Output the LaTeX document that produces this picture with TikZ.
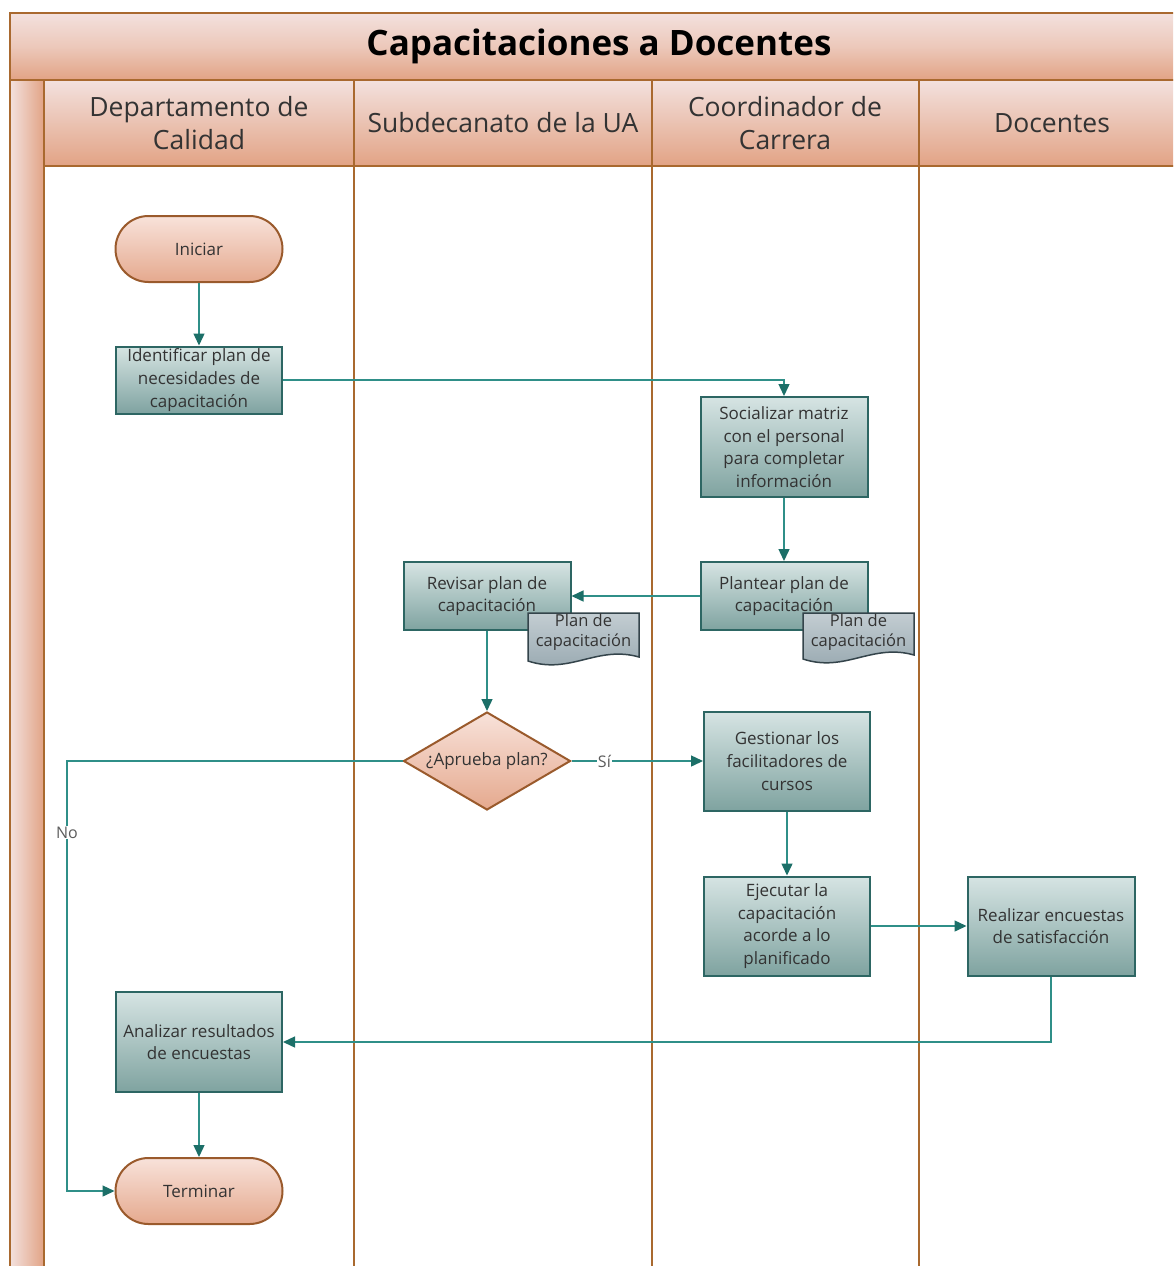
\documentclass[tikz,border=0pt]{standalone}
\usepackage{fontspec}
\setmainfont{Open Sans}
\usetikzlibrary{shapes.geometric,arrows.meta}

\definecolor{laneline}{HTML}{A9692F}
\definecolor{hdrtop}{HTML}{F3E1DE}
\definecolor{hdrbot}{HTML}{E2A385}
\definecolor{proctop}{HTML}{D6E4E3}
\definecolor{procbot}{HTML}{7FA3A0}
\definecolor{procline}{HTML}{2D6663}
\definecolor{termtop}{HTML}{F8E2DA}
\definecolor{termbot}{HTML}{E5A98E}
\definecolor{termline}{HTML}{9A5A2C}
\definecolor{doctop}{HTML}{C3CDD2}
\definecolor{docbot}{HTML}{95A6AE}
\definecolor{docline}{HTML}{34444B}
\definecolor{flow}{HTML}{2F8F88}
\definecolor{flowhead}{HTML}{1C6F68}
\definecolor{txt}{HTML}{333333}

\tikzset{
  proc/.style={rectangle, draw=procline, line width=2pt, top color=proctop,
    bottom color=procbot, align=center, text=txt, inner sep=1pt,
    font=\fontsize{17}{22.7}\selectfont},
  term/.style={rectangle, rounded corners=33pt, draw=termline, line width=2pt,
    top color=termtop, bottom color=termbot, text=txt,
    minimum width=167pt, minimum height=66pt, font=\fontsize{17}{20}\selectfont},
  decision/.style={diamond, draw=termline, line width=2pt, top color=termtop,
    bottom color=termbot, text=txt, inner sep=0pt, aspect=1.7,
    minimum width=167pt, minimum height=98pt, font=\fontsize{17}{20}\selectfont},
  doctext/.style={align=center, text=txt, inner sep=0pt,
    font=\fontsize{16.5}{20}\selectfont},
  docshape/.style={draw=docline, line width=1.5pt, top color=doctop, bottom color=docbot},
  flowline/.style={draw=flow, line width=1.4pt,
    -{Triangle[length=12pt,width=11pt,color=flowhead]}},
  lanehead/.style={align=center, text=txt, font=\fontsize{26.5}{33}\selectfont},
  edgelabel/.style={text=txt!80, fill=white, inner sep=1pt, font=\fontsize{16}{18}\selectfont},
}

% wavy-bottom document symbol: x, y (top-left), width, height
\newcommand\docsymbol[4]{%
  \path[docshape] (#1,#2) -- ({#1+#3},#2) -- ({#1+#3},{#2+#4-6})
    .. controls ({#1+0.62*#3},{#2+#4-18}) and ({#1+0.38*#3},{#2+#4+12}) .. (#1,{#2+#4-2}) -- cycle;}

\begin{document}
\begin{tikzpicture}[x=1pt,y=-1pt]
\useasboundingbox (0,0) rectangle (1173,1266);
\fill[white] (0,0) rectangle (1173,1266);

\begin{scope}
\clip (0,0) rectangle (1173,1266);
% title band
\shade[top color=hdrtop, bottom color=hdrbot, middle color=hdrtop!60!hdrbot]
  (10,13) rectangle (1190,80);
% left stripe
\shade[left color=hdrtop, right color=hdrbot] (10,80) rectangle (44,1270);
% lane headers
\shade[top color=hdrtop, bottom color=hdrbot] (44,80) rectangle (1190,166);
% frame and lane lines
\draw[laneline, line width=2pt] (10,1270) -- (10,13) -- (1190,13);
\draw[laneline, line width=2pt] (10,80) -- (1190,80);
\draw[laneline, line width=2pt] (44,166) -- (1190,166);
\foreach \xx in {44,354,652,919}
  \draw[laneline, line width=2pt] (\xx,80) -- (\xx,1270);
\end{scope}

% titles
\node (title) at (599,46) {\fontsize{35}{40}\selectfont\bfseries Capacitaciones a Docentes};
\node[lanehead] (h1) at (199,123) {Departamento de\\Calidad};
\node[lanehead] (h2) at (503,123) {Subdecanato de la UA};
\node[lanehead] (h3) at (785,123) {Coordinador de\\Carrera};
\node[lanehead] (h4) at (1052,123) {Docentes};

% flow nodes
\node[term] (start) at (199,249) {Iniciar};
\node[proc, minimum width=166pt, minimum height=67pt] (ident) at (199,380)
  {Identificar plan de\\necesidades de\\capacitación};
\node[proc, minimum width=167pt, minimum height=100pt] (social) at (784,447)
  {Socializar matriz\\con el personal\\para completar\\información};
\node[proc, minimum width=167pt, minimum height=68pt] (plant) at (784,596)
  {Plantear plan de\\capacitación};
\node[proc, minimum width=167pt, minimum height=68pt] (revis) at (487,596)
  {Revisar plan de\\capacitación};
\node[decision] (dec) at (487,761) {¿Aprueba plan?};
\node[proc, minimum width=166pt, minimum height=99pt] (gest) at (787,761)
  {Gestionar los\\facilitadores de\\cursos};
\node[proc, minimum width=166pt, minimum height=99pt] (ejec) at (787,926)
  {Ejecutar la\\capacitación\\acorde a lo\\planificado};
\node[proc, minimum width=167pt, minimum height=99pt] (real) at (1051,926)
  {Realizar encuestas\\de satisfacción};
\node[proc, minimum width=166pt, minimum height=100pt] (anal) at (199,1042)
  {Analizar resultados\\de encuestas};
\node[term] (stop) at (199,1191) {Terminar};

% documents attached to the plan steps
\docsymbol{528}{613}{111}{50}
\node[doctext] (doc1) at (583.5,632) {Plan de\\capacitación};
\docsymbol{803}{613}{111}{48}
\node[doctext] (doc2) at (858.5,632) {Plan de\\capacitación};

% connectors
\coordinate (nocorner) at (67,761);
\draw[flowline] (start) -- (ident);
\draw[flowline] (ident.east) -| (social.north);
\draw[flowline] (social) -- (plant);
\draw[flowline] (plant.west) -- (revis.east);
\draw[flowline] (revis.south) -- (dec.north);
\draw[flowline] (dec.east) -- node[edgelabel, pos=0.25] {Sí} (gest.west);
\draw[flowline] (dec.west) -- (nocorner) |- node[edgelabel, pos=0.083] {No} (stop.west);
\draw[flowline] (gest) -- (ejec);
\draw[flowline] (ejec) -- (real);
\draw[flowline] (real.south) |- (anal.east);
\draw[flowline] (anal) -- (stop);
\end{tikzpicture}
\end{document}
